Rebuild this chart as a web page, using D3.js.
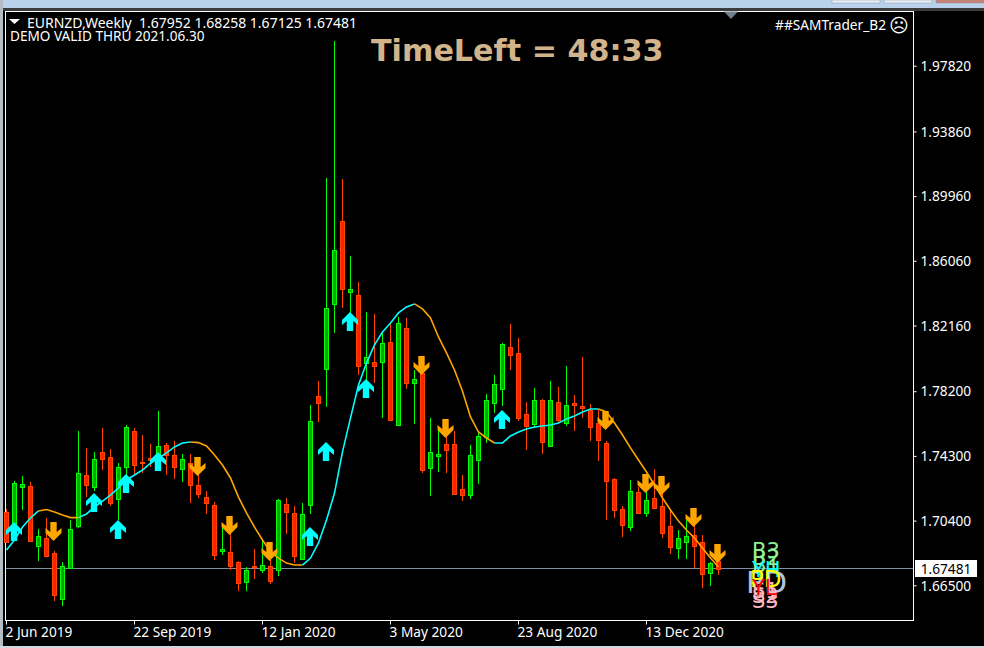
<!DOCTYPE html>
<html><head><meta charset="utf-8">
<script src="https://cdn.jsdelivr.net/npm/d3@7"></script>
<style>
html,body{margin:0;padding:0;background:#000;width:984px;height:648px;overflow:hidden}
text{font-family:"Noto Sans",Tahoma,sans-serif}
</style></head><body>
<svg id="c" width="984" height="648"></svg>
<script>
const opens=[1.7092,1.7013,1.7243,1.7249,1.6887,1.6935,1.6845,1.6567,1.6754,1.7007,1.7315,1.7243,1.7454,1.7423,1.7170,1.7363,1.7580,1.7393,1.7417,1.7442,1.7496,1.7435,1.7351,1.7387,1.7255,1.7182,1.7134,1.6857,1.6851,1.6790,1.6670,1.6766,1.6742,1.6766,1.6742,1.7140,1.7086,1.6808,1.7134,1.7791,1.7954,1.8346,1.8845,1.8417,1.8399,1.7990,1.7996,1.7996,1.8117,1.7616,1.8201,1.7870,1.7930,1.7357,1.7429,1.7502,1.7502,1.7231,1.7194,1.7405,1.7544,1.7749,1.7834,1.8087,1.8051,1.7683,1.7622,1.7767,1.7490,1.7755,1.7628,1.7749,1.7731,1.7707,1.7628,1.7508,1.7291,1.7110,1.7001,1.7212,1.7086,1.7176,1.7128,1.7007,1.6875,1.6911,1.6953,1.6911,1.6724,1.67952];
const highs=[1.7110,1.7279,1.7309,1.7273,1.6989,1.7056,1.6857,1.6790,1.7043,1.7580,1.7478,1.7454,1.7598,1.7472,1.7387,1.7616,1.7598,1.7556,1.7502,1.7701,1.7508,1.7520,1.7442,1.7442,1.7315,1.7218,1.7152,1.7007,1.6965,1.6796,1.6760,1.6869,1.6923,1.6820,1.7170,1.7176,1.7128,1.7146,1.7737,1.7882,1.9105,1.9931,1.9099,1.8634,1.8478,1.8298,1.8286,1.8177,1.8231,1.8268,1.8262,1.7948,1.7948,1.7659,1.7586,1.7556,1.7580,1.7315,1.7496,1.7568,1.7803,1.7918,1.8111,1.8225,1.8141,1.7755,1.7840,1.7773,1.7882,1.7846,1.7972,1.7797,1.8026,1.7743,1.7707,1.7520,1.7297,1.7128,1.7285,1.7243,1.7225,1.7351,1.7206,1.7104,1.6983,1.7043,1.7013,1.6953,1.6790,1.68258];
const lows=[1.6905,1.6983,1.7104,1.6911,1.6796,1.6820,1.6555,1.6525,1.6754,1.6995,1.7182,1.7218,1.7345,1.7128,1.7043,1.7303,1.7315,1.7327,1.7363,1.7345,1.7315,1.7291,1.7273,1.7146,1.7176,1.7080,1.6802,1.6832,1.6742,1.6615,1.6615,1.6688,1.6724,1.6658,1.6706,1.6959,1.6784,1.6802,1.7080,1.7634,1.7725,1.8171,1.8322,1.8249,1.7918,1.7858,1.7870,1.7659,1.7640,1.7610,1.7834,1.7622,1.7327,1.7188,1.7333,1.7327,1.7194,1.7158,1.7170,1.7261,1.7508,1.7689,1.7731,1.7948,1.7640,1.7466,1.7604,1.7442,1.7484,1.7628,1.7610,1.7580,1.7659,1.7520,1.7399,1.7043,1.7056,1.6941,1.6977,1.7080,1.7062,1.7110,1.6935,1.6839,1.6808,1.6808,1.6754,1.6634,1.6646,1.67125];
const closes=[1.6911,1.7267,1.7261,1.6917,1.6947,1.6826,1.6591,1.6766,1.6989,1.7327,1.7255,1.7411,1.7411,1.7146,1.7363,1.7604,1.7375,1.7387,1.7405,1.7490,1.7435,1.7363,1.7411,1.7255,1.7200,1.7146,1.6832,1.6869,1.6766,1.6664,1.6742,1.6760,1.6772,1.6676,1.7164,1.7092,1.6826,1.7080,1.7640,1.7749,1.8322,1.8671,1.8436,1.8436,1.7972,1.8026,1.7972,1.8111,1.7646,1.8231,1.7870,1.7894,1.7345,1.7454,1.7442,1.7466,1.7200,1.7194,1.7435,1.7550,1.7767,1.7864,1.8105,1.8038,1.7659,1.7610,1.7767,1.7514,1.7767,1.7646,1.7737,1.7737,1.7719,1.7604,1.7526,1.7279,1.7104,1.7013,1.7218,1.7086,1.7164,1.7116,1.6965,1.6881,1.6935,1.6947,1.6887,1.6718,1.6784,1.67481];
const maLine=[1.6863,1.6923,1.7001,1.7056,1.7098,1.7107,1.7092,1.7074,1.7058,1.7058,1.7080,1.7122,1.7158,1.7194,1.7237,1.7285,1.7315,1.7345,1.7387,1.7417,1.7448,1.7484,1.7508,1.7514,1.7510,1.7490,1.7435,1.7375,1.7297,1.7182,1.7086,1.7001,1.6923,1.6851,1.6814,1.6784,1.6772,1.6772,1.6814,1.6905,1.7043,1.7206,1.7454,1.7659,1.7858,1.7990,1.8099,1.8177,1.8231,1.8292,1.8328,1.8346,1.8316,1.8262,1.8147,1.8051,1.7948,1.7820,1.7665,1.7574,1.7538,1.7508,1.7508,1.7550,1.7574,1.7592,1.7604,1.7610,1.7616,1.7628,1.7653,1.7671,1.7695,1.7713,1.7713,1.7695,1.7628,1.7556,1.7478,1.7405,1.7333,1.7255,1.7176,1.7104,1.7037,1.6983,1.6935,1.6875,1.6814,1.6760];
const maTurns=[0,4,9,23,37,51,61,74,89];
const maColors=["#00FFFF","#FFA500","#00FFFF","#FFA500","#00FFFF","#FFA500","#00FFFF","#FFA500"];
const upIdx=[1,11,14,15,19,38,40,43,45,62];
const upPrice=[1.7031,1.7206,1.7043,1.7321,1.7454,1.7001,1.7514,1.8298,1.7894,1.7707];
const downIdx=[6,24,28,33,52,55,75,80,82,86,89];
const downPrice=[1.6917,1.7309,1.6953,1.6796,1.7918,1.7538,1.7586,1.7206,1.7194,1.7001,1.6784];
const priceTicks=[1.97820,1.93860,1.89960,1.86060,1.82160,1.78200,1.74300,1.70400,1.66500];
const dateIdx=[0,16,32,48,64,80];
const dateLabels=["2 Jun 2019","22 Sep 2019","12 Jan 2020","3 May 2020","23 Aug 2020","13 Dec 2020"];
const lastPrice=1.67481;
const pivotNames=["PD","B3","B2","B1","S1","S2","S3","YH","PD","YL"];
const pivotPrices=[1.6603,1.6814,1.6772,1.6730,1.6573,1.6543,1.6513,1.6700,1.6640,1.6591];
const pivotColors=["#B0C4DE","#90EE90","#90EE90","#90EE90","#FFB6C1","#FFB6C1","#FFB6C1","#00FFFF","#FFFF00","#FF0000"];

const svg=d3.select("#c");
// window chrome
svg.append("rect").attr("width",984).attr("height",8).attr("fill","#B9D1EA");
svg.append("rect").attr("y",8).attr("width",984).attr("height",3).attr("fill","#3c3c3c");
svg.append("rect").attr("width",3).attr("height",648).attr("fill","#B4BCC4");
svg.append("rect").attr("y",646).attr("width",984).attr("height",2).attr("fill","#D0D8E0");
[[832,48,"#E8EEF4"],[884,48,"#E8EEF4"],[936,48,"#D08070"]].forEach(b=>{
  svg.append("rect").attr("x",b[0]).attr("y",0).attr("width",b[1]).attr("height",3).attr("fill",b[2]).attr("stroke","#8a9aa8").attr("stroke-width",.5);
});

const x=d3.scaleLinear().domain([0,89]).range([6,718]);
const y=d3.scaleLinear().domain([1.665,1.9782]).range([585.3,65.7]);

// frame
svg.append("rect").attr("x",5.5).attr("y",11.5).attr("width",908).attr("height",609).attr("fill","#000").attr("stroke","#fff");
svg.append("path").attr("d","M724,11.5H738L731,19Z").attr("fill","#708090");

// axes
const ya=d3.axisRight(y).tickValues(priceTicks).tickFormat(d3.format(".5f")).tickSize(3).tickPadding(4);
const yg=svg.append("g").attr("transform","translate(913.5,0)").call(ya);
const xa=d3.axisBottom(x).tickValues(dateIdx).tickFormat((d,i)=>dateLabels[i]).tickSize(4).tickPadding(3);
const xg=svg.append("g").attr("transform","translate(0,620.5)").call(xa);
[yg,xg].forEach(g=>{g.select(".domain").remove();g.selectAll("line").attr("stroke","#fff");
  g.selectAll("text").attr("fill","#fff").style("font-size","13.7px");});
xg.selectAll("text").attr("text-anchor","start").attr("dx","-1");
yg.selectAll("text").attr("dy","0.35em");

// last price line
const ly=Math.round(y(lastPrice))-.5;
svg.append("line").attr("x1",6).attr("x2",913).attr("y1",ly).attr("y2",ly).attr("stroke","#8090A4");

// candles
const idx=d3.range(opens.length);
const bull=i=>closes[i]>=opens[i];
svg.append("g").selectAll("line").data(idx).join("line")
  .attr("x1",i=>Math.round(x(i))+.5).attr("x2",i=>Math.round(x(i))+.5)
  .attr("y1",i=>y(highs[i])).attr("y2",i=>y(lows[i]))
  .attr("stroke",i=>bull(i)?"#00FF00":"#FF4500");
svg.append("g").selectAll("rect").data(idx).join("rect")
  .attr("x",i=>Math.round(x(i))-1.5).attr("width",4)
  .attr("y",i=>Math.round(y(Math.max(opens[i],closes[i])))+.5)
  .attr("height",i=>Math.max(1,Math.round(Math.abs(y(opens[i])-y(closes[i])))))
  .attr("fill",i=>bull(i)?"#00A800":"#FF2000")
  .attr("stroke",i=>bull(i)?"#00FF00":"#FF4500");

// moving average
const ln=d3.line().x(i=>x(i)+.5).y(i=>y(maLine[i]));
maColors.forEach((c,k)=>{
  svg.append("path").attr("d",ln(d3.range(maTurns[k],maTurns[k+1]+1))).attr("fill","none").attr("stroke",c).attr("stroke-width",1.6);
});

// arrows
const upShape="M0,0L8,8V13L3.2,9V19H-3.2V9L-8,13V8Z";
const dnShape="M0,0L8,-8V-13L3.2,-9V-19H-3.2V-9L-8,-13V-8Z";
svg.append("g").selectAll("path").data(upIdx).join("path")
  .attr("d",upShape).attr("fill","#00FFFF")
  .attr("transform",(d,k)=>`translate(${x(d)},${y(upPrice[k])})`);
svg.append("g").selectAll("path").data(downIdx).join("path")
  .attr("d",dnShape).attr("fill","#FFA500")
  .attr("transform",(d,k)=>`translate(${x(d)-.5},${y(downPrice[k])})`);

// pivot labels
svg.append("g").selectAll("text").data(pivotNames).join("text")
  .text(d=>d).attr("x",(d,i)=>i==0?746:i==8?750:752).attr("y",(d,i)=>y(pivotPrices[i]))
  .attr("fill",(d,i)=>pivotColors[i])
  .style("font-family","'DejaVu Sans'").style("font-size",(d,i)=>i==0?"30px":i==8?"23px":"21px");

// last price box
svg.append("rect").attr("x",915).attr("y",560).attr("width",62).attr("height",17).attr("fill","#fff");
svg.append("text").text(d3.format(".5f")(lastPrice)).attr("x",946).attr("y",573.5).attr("text-anchor","middle").attr("fill","#000").style("font-size","13.7px");

// header texts
svg.append("path").attr("d","M9,19H20L14.5,24Z").attr("fill","#fff");
svg.append("text").text("EURNZD,Weekly  1.67952 1.68258 1.67125 1.67481").attr("xml:space","preserve").attr("x",27).attr("y",28).attr("fill","#fff").style("font-size","14px").style("white-space","pre");
svg.append("text").text("DEMO VALID THRU 2021.06.30").attr("x",10).attr("y",41).attr("fill","#fff").style("font-size","13.6px");
svg.append("text").text("##SAMTrader_B2").attr("x",886).attr("y",30).attr("text-anchor","end").attr("fill","#fff").style("font-size","13.7px");
svg.append("text").text("\u2639").attr("x",899).attr("y",32).attr("text-anchor","middle").attr("fill","#fff").style("font-family","'DejaVu Sans'").style("font-size","19px");
svg.append("text").text("TimeLeft = 48:33").attr("x",371).attr("y",61).attr("fill","#D2B48C").style("font-family","'DejaVu Sans'").style("font-weight","bold").style("font-size","30.2px");
</script></body></html>
